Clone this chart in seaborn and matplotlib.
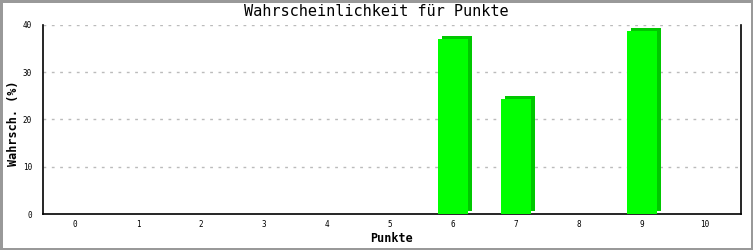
import matplotlib
matplotlib.use("Agg")
import matplotlib.pyplot as plt
import matplotlib.transforms as mtransforms
import seaborn as sns
import pandas as pd

categories = [0, 1, 2, 3, 4, 5, 6, 7, 8, 9, 10]
values = [0, 0, 0, 0, 0, 0, 37.0, 24.3, 0, 38.7, 0]
yticks = [0, 10, 20, 30, 40]

sns.set_style("white")
plt.rcParams['font.family'] = ['DejaVu Sans Mono', 'DejaVu Sans']
plt.rcParams['text.color'] = 'black'
plt.rcParams['axes.labelcolor'] = 'black'
plt.rcParams['xtick.color'] = 'black'
plt.rcParams['ytick.color'] = 'black'

df = pd.DataFrame({"Punkte": [str(c) for c in categories], "Wert": values})

fig = plt.figure(figsize=(7.53, 2.5), dpi=100, facecolor="white",
                 edgecolor="#999999", linewidth=2.5)
ax = fig.add_axes([43/753, 36/250, (741-43)/753, (214-25)/250])

# shadow (3D depth)
sns.barplot(data=df, x="Punkte", y="Wert", color="#00c800", width=0.47,
            saturation=1, ax=ax, zorder=2)
n_shadow = len(ax.patches)
off = mtransforms.offset_copy(ax.transData, fig=fig, x=4, y=3, units="dots")
for p in ax.patches[:n_shadow]:
    p.set_transform(off)
    p.set_linewidth(0)

# front faces
sns.barplot(data=df, x="Punkte", y="Wert", color="#00ff00", width=0.47,
            saturation=1, ax=ax, zorder=3)
for p in ax.patches[n_shadow:]:
    p.set_linewidth(0)

ax.set_xlim(-0.51, 10.57)
ax.set_ylim(0, 40)
ax.set_yticks(yticks)
ax.set_yticklabels([str(t) for t in yticks], fontsize=5.5)
ax.tick_params(axis="x", length=0, labelsize=5.5, pad=4)
ax.tick_params(axis="y", length=5, width=1, direction="out", pad=3)

for y in yticks[1:]:
    ax.axhline(y, color="#bbbbbb", lw=1, ls=(0, (2, 4)), zorder=1)

ax.spines["top"].set_visible(False)
for s in ["left", "right", "bottom"]:
    ax.spines[s].set_color("black")
    ax.spines[s].set_linewidth(1.2)

ax.set_xlabel("Punkte", fontsize=8.5, fontweight="bold")
ax.set_ylabel("Wahrsch. (%)", fontsize=8.5, fontweight="bold")
ax.xaxis.set_label_coords(0.5, (214 - 239) / 189)
ax.yaxis.set_label_coords((14 - 43) / 698, 0.48)
ax.xaxis.label.set_va("center")
ax.yaxis.label.set_va("center")
fig.text(0.5, 1 - 12/250, "Wahrscheinlichkeit für Punkte", ha="center",
         va="center", fontsize=11)

fig.savefig("out.png", dpi=100, facecolor="white", edgecolor="#999999")
